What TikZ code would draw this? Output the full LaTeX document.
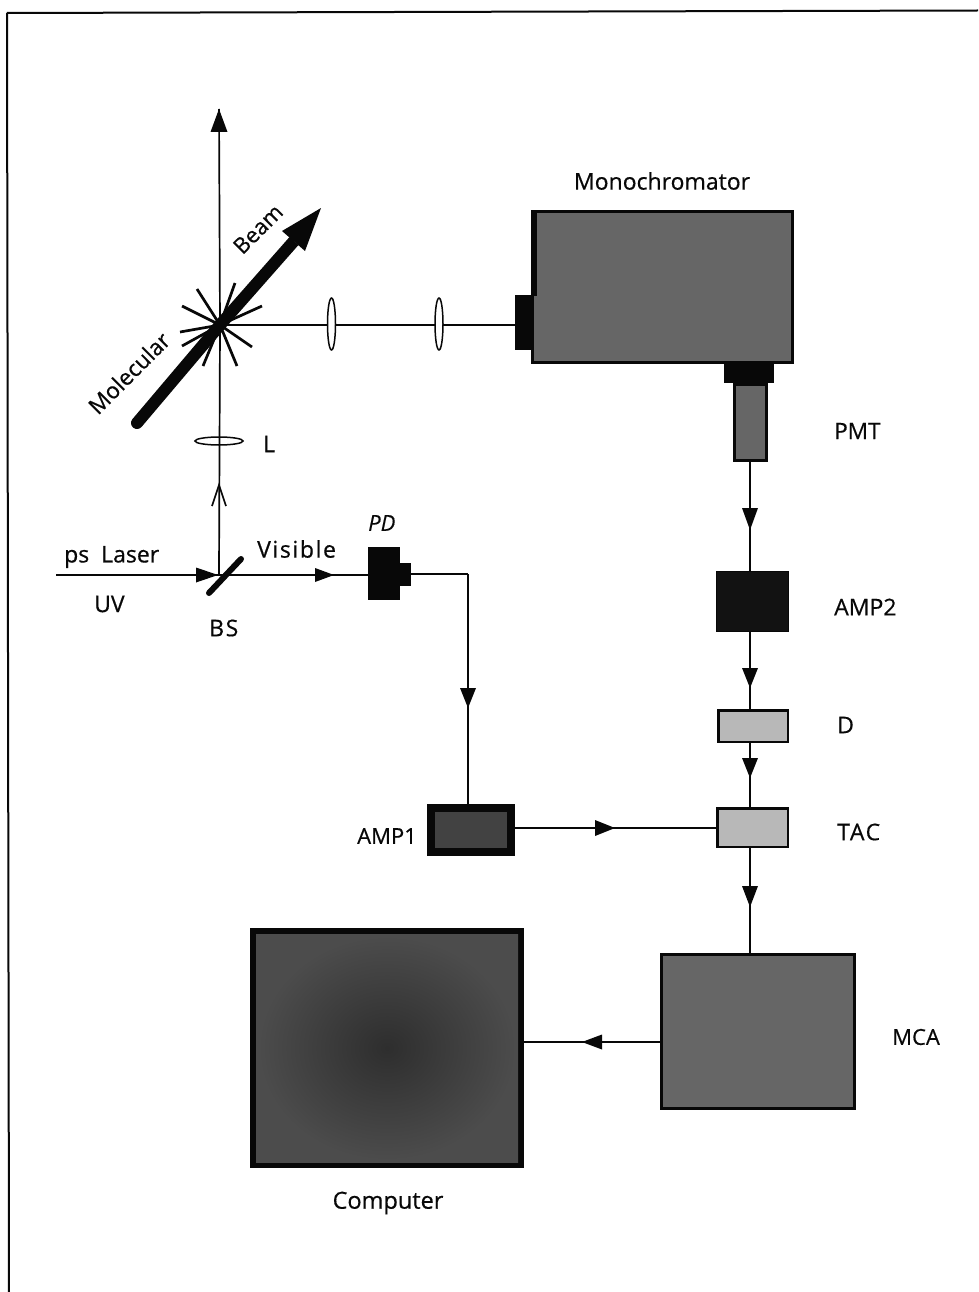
\documentclass[tikz,border=0pt]{standalone}
\usepackage{fontspec}
\setmainfont[FakeBold=0.25]{Open Sans}
\newfontfamily\heavy[FakeBold=0.5]{Open Sans}
\usetikzlibrary{arrows.meta,decorations.markings}
\definecolor{gA}{gray}{0.40}
\definecolor{gB}{gray}{0.72}
\definecolor{gC}{gray}{0.26}
\definecolor{gE}{gray}{0.07}
\definecolor{gF}{gray}{0.40}
\definecolor{ink}{gray}{0.03}
\tikzset{
  x=1pt,y=-1pt,
  wire/.style={draw=ink,line width=1.7pt},
  fwd/.style n args={3}{wire,postaction={decorate},decoration={markings,mark=at position #1 with {\arrow[ink,line width=0pt]{Triangle[length=#2,width=#3]}}}},
  lens/.style={draw=ink,line width=1.5pt,fill=white},
  lbl/.style={font=\heavy\fontsize{23}{27}\selectfont,text=ink,inner sep=0pt},
  lblwide/.style={font=\heavy\fontsize{23}{27}\selectfont\addfontfeature{LetterSpace=7},text=ink,inner sep=0pt},
  ray/.style={ink,line width=2.7pt},
  solidblock/.style={fill=ink,draw=none,inner sep=0pt,outer sep=0pt,anchor=north west},
}
% name, x1, y1, x2, y2, inner fill, border inset
\newcommand{\blk}[7]{%
  \node[solidblock,minimum width=#4pt-#2pt,minimum height=#5pt-#3pt] (#1) at (#2,#3) {};
  \fill[#6] (#2+#7,#3+#7) rectangle (#4-#7,#5-#7);}
\begin{document}
\begin{tikzpicture}
\useasboundingbox (0,0) rectangle (978,1292);
\fill[white] (0,0) rectangle (978,1292);
\draw[ink,line width=2pt] (7,13) -- (978,10.5);
\draw[ink,line width=2pt] (7,13) -- (9,1292);

% boxes
\blk{mono}{531}{210}{794}{364}{gA}{3}
\fill[ink] (531,210) rectangle (537,296);
\blk{slit}{515}{295}{533}{350}{ink}{0}
\blk{pmtcap}{724}{364}{774}{383}{ink}{0}
\blk{pmt}{733}{383}{768}{462}{gF}{3}
\blk{amptwo}{716}{571}{789}{632}{gE}{1}
\blk{dbox}{717}{709}{789}{743}{gB}{2.5}
\blk{tac}{716}{807}{789}{848}{gB}{2.5}
\blk{ampone}{427}{804}{515}{856}{gC}{8}
\blk{mca}{660}{953}{856}{1110}{gA}{3}
\node[solidblock,minimum width=274pt,minimum height=240pt] (comp) at (250,928) {};
\shade[inner color=black!82,outer color=black!70] (256,934) rectangle (518,1162);
\blk{pdbody}{368}{547}{400}{600}{ink}{0}
\blk{pdnose}{400}{563}{411}{586}{ink}{0}

% named junctions
\coordinate (X) at (220,325);
\coordinate (Top) at (219,109);
\coordinate (BSc) at (219,575);
\coordinate (In) at (56,575);
\coordinate (Corner) at (468,574);
\coordinate (MBa) at (137,423);
\coordinate (MBb) at (321,208);
\coordinate (MBn) at (294,241);

% beams
\draw[wire] (X) -- (Top);
\fill[ink] (Top) -- ++(8.5,23) -- ++(-17,0) -- cycle;
\draw[wire] (BSc) -- (X);
\draw[ink,line width=1.6pt] (212,506) -- (219,485) -- (226,506);
\draw[wire] (X) -- (slit.west |- X);

% rays
\foreach \dx/\dy in {-23/-36,-38/-19,-40/7,-38/21,-17/41,17/41,32/22,42/-19,15/-42}{
  \draw[ray] (X) -- ++(\dx,\dy);
}
% molecular beam
\draw[ink,line width=12pt,line cap=round] (X) -- (MBa);
\draw[ink,line width=12pt] (X) -- (MBn);
\fill[ink] (MBb) -- (282,231) -- (305,251) -- cycle;

% lenses
\draw[lens] (331.5,324) ellipse (4 and 26);
\draw[lens] (439,324) ellipse (4 and 26);
\draw[ink,line width=1.5pt] (219,441) ellipse (24 and 4);

% lower path
\draw[ink,line width=6pt,line cap=round] (209,593) -- (241,559);
\draw[fwd={162pt}{22pt}{15pt},line width=2.2pt] (In) -- (BSc);
\draw[fwd={115pt}{19pt}{14pt}] (BSc) -- (pdbody.west |- BSc);
\draw[wire] (pdnose.east |- Corner) -- (Corner);
\draw[fwd={134pt}{20pt}{16pt}] (Corner) -- (Corner |- ampone.north);
\coordinate (TacIn) at (716,828);
\draw[fwd={100pt}{20pt}{16pt},line width=2pt] (ampone.east |- TacIn) -- (TacIn);
\draw[fwd={68pt}{22pt}{16pt}] (pmt.south -| 750,0) -- (amptwo.north -| 750,0);
\draw[fwd={56pt}{20pt}{16pt},line width=2pt] (amptwo.south -| 750,0) -- (dbox.north -| 750,0);
\draw[fwd={35pt}{20pt}{16pt},line width=2pt] (dbox.south -| 750,0) -- (tac.north -| 750,0);
\draw[fwd={59pt}{21pt}{16pt},line width=2pt] (tac.south -| 750,0) -- (mca.north -| 750,0);
\coordinate (McaOut) at (660,1042);
\draw[fwd={78pt}{20pt}{15pt},line width=2pt] (McaOut) -- (comp.east |- McaOut);

% labels
\node[lbl,rotate=45,font=\heavy\fontsize{22.5}{26}\selectfont] at (129,373) {Molecular};
\node[lbl,rotate=45,font=\heavy\fontsize{22}{26}\selectfont] at (258,229) {Beam};
\node[lbl] at (662,181) {Monochromator};
\node[lbl,anchor=west] at (263,444) {L};
\node[lbl,anchor=west] at (64,557) {ps\ \ Laser};
\node[lbl,anchor=west] at (94,604) {UV};
\node[lblwide,anchor=west] at (209,628) {BS};
\node[lblwide,anchor=west] at (257,549) {Visible};
\node[lbl,anchor=west,font=\fontsize{22}{26}\selectfont\itshape] at (368,523) {PD};
\node[lbl,anchor=west,font=\heavy\fontsize{22.5}{26}\selectfont] at (834,431) {PMT};
\node[lbl,anchor=west] at (834,607) {AMP2};
\node[lbl,anchor=west] at (837,725) {D};
\node[lblwide,anchor=west] at (837,832) {TAC};
\node[lbl,anchor=west,font=\heavy\fontsize{22}{26}\selectfont] at (357,836) {AMP1};
\node[lbl,anchor=west,font=\heavy\fontsize{22}{26}\selectfont] at (892,1037) {MCA};
\node[lbl,font=\heavy\fontsize{23.5}{27}\selectfont] at (388,1203) {Computer};
\end{tikzpicture}
\end{document}
